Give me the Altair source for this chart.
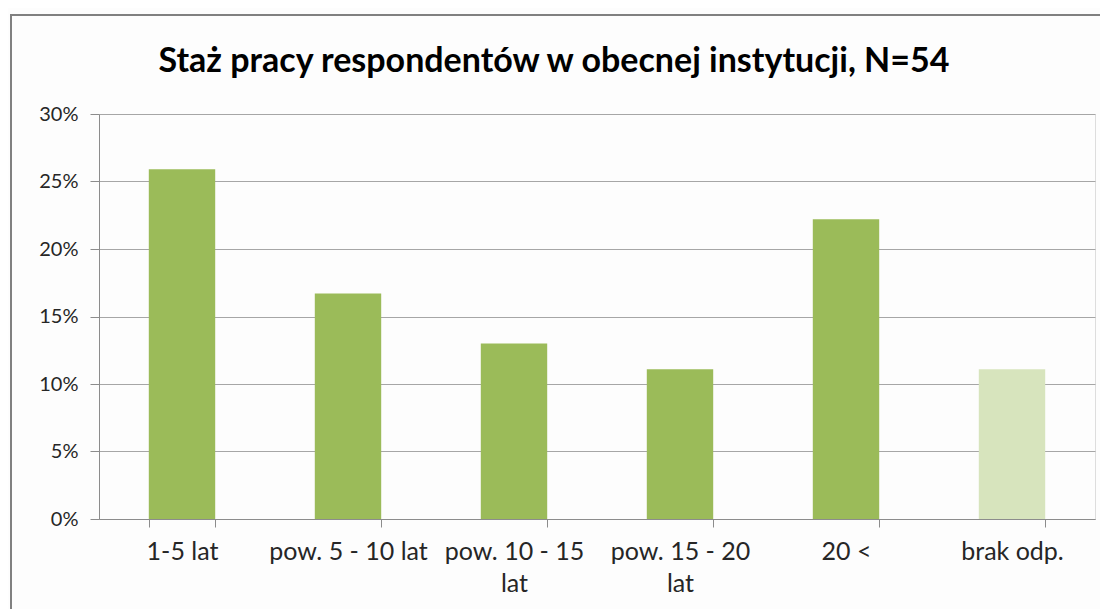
import altair as alt
import pandas as pd

categories = ["1-5 lat", "pow. 5 - 10 lat", "pow. 10 - 15 lat", "pow. 15 - 20 lat", "20 <", "brak odp."]
values = [0.259, 0.167, 0.130, 0.111, 0.222, 0.111]
colors = ["#9BBB59", "#9BBB59", "#9BBB59", "#9BBB59", "#9BBB59", "#D7E4BD"]
y_ticks = [0, 0.05, 0.10, 0.15, 0.20, 0.25, 0.30]
title_text = "Staż pracy respondentów w obecnej instytucji, N=54"

df = pd.DataFrame({"kat": categories, "val": values, "col": colors})
title_df = pd.DataFrame({"t": [title_text]})

FONT = "Lato"

label_expr = ("datum.label == 'pow. 10 - 15 lat' ? ['pow. 10 - 15', 'lat'] : "
              "datum.label == 'pow. 15 - 20 lat' ? ['pow. 15 - 20', 'lat'] : datum.label")

bars = alt.Chart(df).mark_bar().encode(
    x=alt.X("kat:N", sort=categories, title=None,
            scale=alt.Scale(paddingInner=0.6, paddingOuter=0.3),
            axis=alt.Axis(labelAngle=0, labelExpr=label_expr, tickBand="extent",
                          tickSize=8, tickColor="#8C8C8C", domainColor="#8C8C8C",
                          labelFontSize=25, labelColor="#262626", labelFont=FONT,
                          labelPadding=12, grid=False, labelLineHeight=32,
                          labelLimit=200)),
    y=alt.Y("val:Q", title=None,
            scale=alt.Scale(domain=[0, 0.3], nice=False),
            axis=alt.Axis(values=y_ticks, format=".0%", tickSize=9, tickColor="#8C8C8C",
                          domainColor="#8C8C8C", gridColor="#A6A6A6",
                          labelFontSize=20, labelColor="#262626", labelFont=FONT,
                          labelPadding=12)),
    color=alt.Color("col:N", scale=None),
)

title = alt.Chart(title_df).mark_text(
    font=FONT, fontSize=34, fontWeight="bold", color="#000000",
    align="center", baseline="middle", clip=False
).encode(text="t:N", x=alt.value(455), y=alt.value(-52))

border = alt.Chart(df).mark_rect(fill=None, stroke="#808080", strokeWidth=2, clip=False).encode(
    x=alt.value(-88), x2=alt.value(1110), y=alt.value(-99), y2=alt.value(700)
)

chart = alt.layer(bars, title, border).properties(
    width=996, height=405,
    autosize=alt.AutoSizeParams(type="none"),
    padding={"left": 91, "top": 106, "right": 5, "bottom": 90},
).configure_view(stroke=None).configure(background="#FDFDFD")

chart.save("out.html", embed_options={"renderer": "svg", "actions": False})
